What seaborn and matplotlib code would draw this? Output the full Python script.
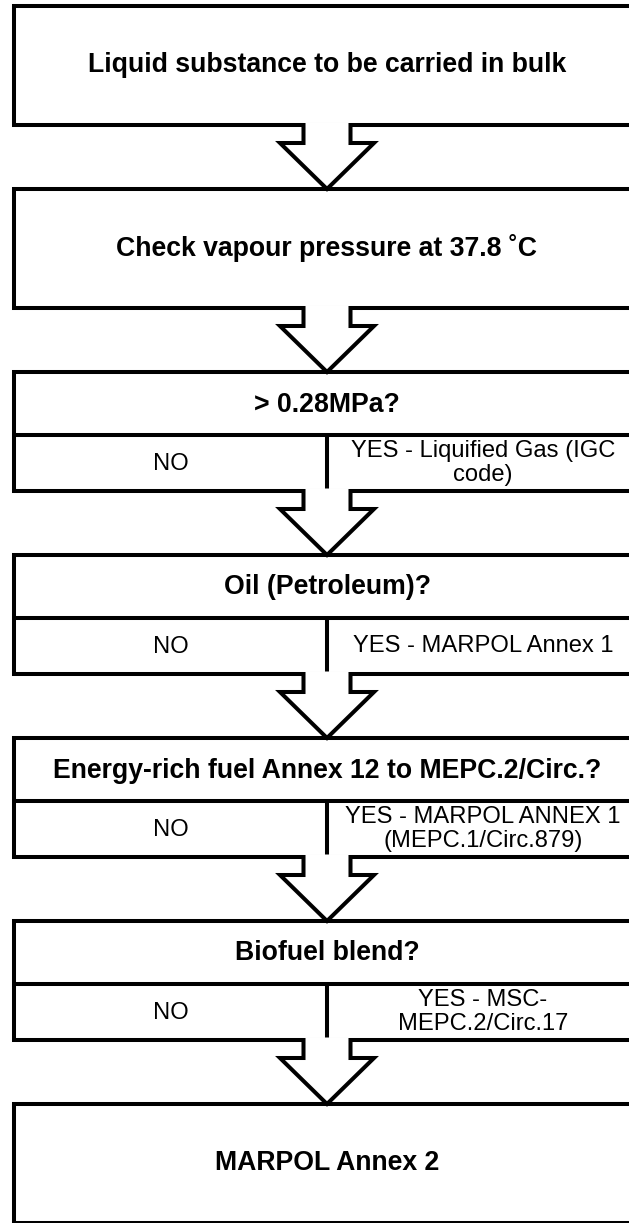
import matplotlib
matplotlib.use("Agg")
import matplotlib.pyplot as plt
import seaborn as sns
from matplotlib.patches import Rectangle, Polygon

# Flow steps (top to bottom)
steps = [
    "Liquid substance to be carried in bulk",
    "Check vapour pressure at 37.8 \u02daC",
    "> 0.28MPa?",
    "Oil (Petroleum)?",
    "Energy-rich fuel Annex 12 to MEPC.2/Circ.?",
    "Biofuel blend?",
    "MARPOL Annex 2",
]
no_labels = [None, None, "NO", "NO", "NO", "NO", None]
yes_labels = [
    None,
    None,
    "YES - Liquified Gas (IGC\ncode)",
    "YES - MARPOL Annex 1",
    "YES - MARPOL ANNEX 1\n(MEPC.1/Circ.879)",
    "YES - MSC-\nMEPC.2/Circ.17",
    None,
]

sns.set_theme(style="white")
plt.rcParams["font.family"] = ["Liberation Sans", "DejaVu Sans"]

W, H = 629, 1223
fig = plt.figure(figsize=(W / 100, H / 100), dpi=100)
ax = fig.add_axes([0, 0, 1, 1])
ax.set_xlim(0, W)
ax.set_ylim(H, 0)
ax.axis("off")

# layout in pixels
LEFT, RIGHT, MID, YES_X = 14, 642, 327, 483
TOP0, PITCH, BOX_H, HEAD_H = 6, 183, 119, 63
LW = 2.9
SHAFT, HEAD, NECK = 23.5, 47, 18
bold = dict(fontsize=19.2, fontweight="bold", color="black", ha="center", va="center", zorder=4)
plain = dict(fontsize=17.1, color="black", ha="center", va="center", linespacing=1.1, zorder=4)


def draw_arrow(y0, y1):
    xs = [MID - SHAFT, MID - SHAFT, MID - HEAD, MID, MID + HEAD, MID + SHAFT, MID + SHAFT]
    ys = [y0 - 2, y0 + NECK, y0 + NECK, y1, y0 + NECK, y0 + NECK, y0 - 2]
    fill_ys = [y0 - 2.5] + ys[1:3] + [y1 - 2] + ys[4:6] + [y0 - 2.5]
    ax.add_patch(Polygon(list(zip(xs, fill_ys)), closed=True, fc="white", ec="none", zorder=2))
    ax.plot(xs, ys, color="black", lw=LW, solid_joinstyle="miter",
            solid_capstyle="butt", zorder=3)


for i, label in enumerate(steps):
    top = TOP0 + i * PITCH
    bottom = top + BOX_H
    ax.add_patch(Rectangle((LEFT, top), RIGHT - LEFT, BOX_H, fc="white", ec="black",
                           lw=LW, joinstyle="miter", zorder=1))
    if no_labels[i]:
        hy = top + HEAD_H
        ax.plot([LEFT, RIGHT], [hy, hy], color="black", lw=LW, zorder=1)
        ax.plot([MID, MID], [hy, bottom], color="black", lw=LW, zorder=1)
        ax.text(MID, top + HEAD_H / 2 + 1, label, **bold)
        ax.text((LEFT + MID) / 2, (hy + bottom) / 2 + 1, no_labels[i], **plain)
        ax.text(YES_X, (hy + bottom) / 2, yes_labels[i], **plain)
    else:
        ax.text(MID, top + BOX_H / 2, label, **bold)
    if i < len(steps) - 1:
        draw_arrow(bottom, top + PITCH)

fig.savefig("out.png", dpi=100)
